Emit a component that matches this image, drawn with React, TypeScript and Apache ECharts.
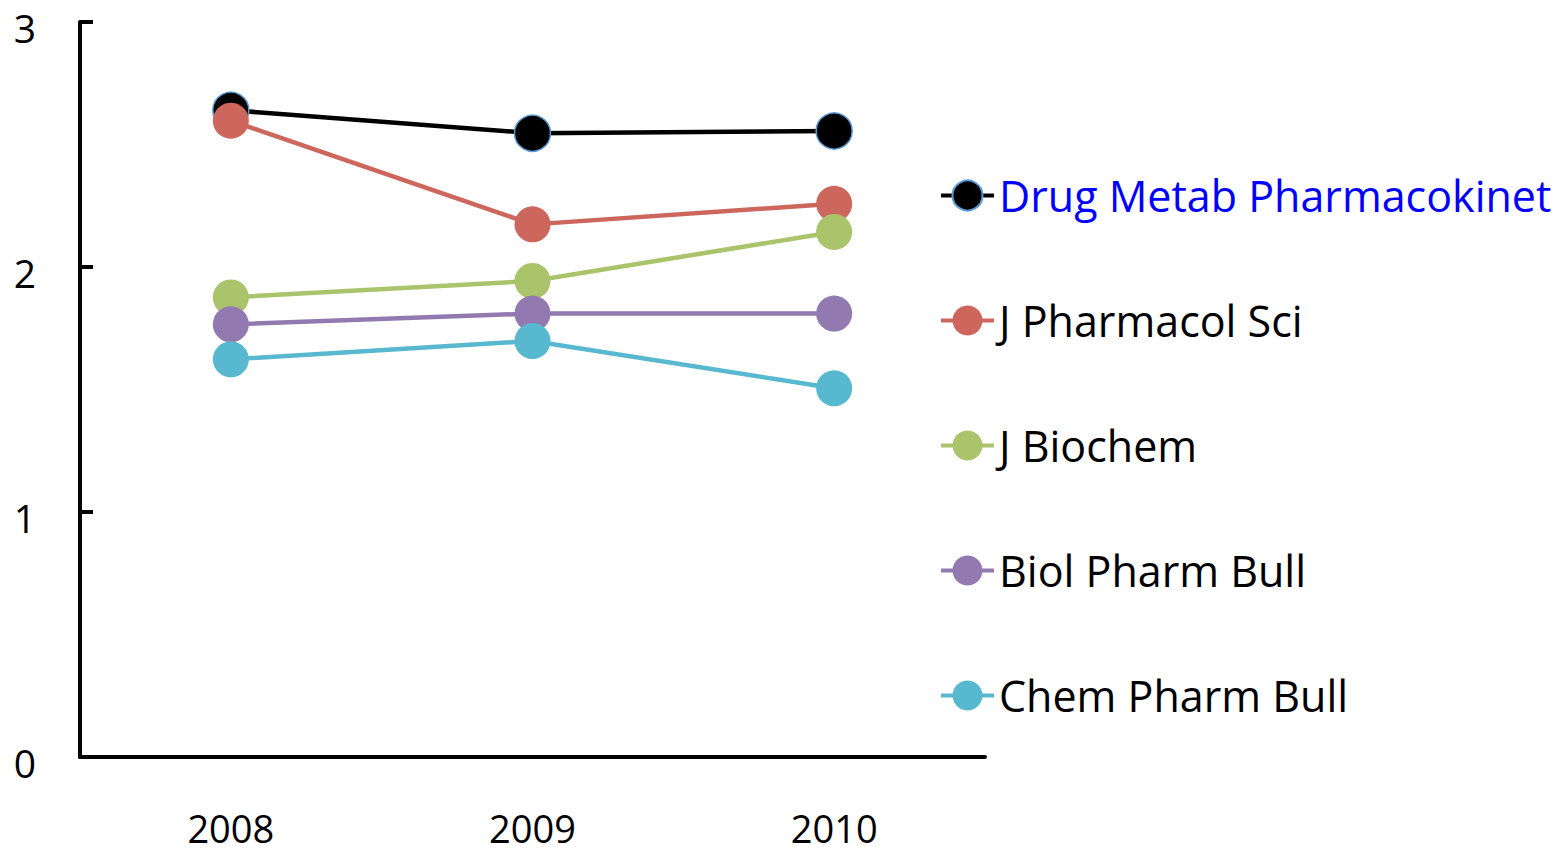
import React, { useEffect, useRef } from "react";
import * as echarts from "echarts";

const years = ["2008", "2009", "2010"];
const seriesNames = [
  "Drug Metab Pharmacokinet",
  "J Pharmacol Sci",
  "J Biochem",
  "Biol Pharm Bull",
  "Chem Pharm Bull",
];
const drugMetab = [2.64, 2.546, 2.555];
const jPharmacolSci = [2.597, 2.174, 2.258];
const jBiochem = [1.876, 1.943, 2.143];
const biolPharmBull = [1.766, 1.81, 1.81];
const chemPharmBull = [1.623, 1.698, 1.505];
const seriesValues = [drugMetab, jPharmacolSci, jBiochem, biolPharmBull, chemPharmBull];
const colors = ["#000000", "#CD665D", "#A9C46A", "#9279B0", "#58B8D0"];
const yTicks = [0, 1, 2, 3];

const FONT = "'Open Sans', 'Noto Sans', sans-serif";

export default function App() {
  const ref = useRef<HTMLDivElement>(null);
  useEffect(() => {
    if (!ref.current) return;
    const chart = echarts.init(ref.current, undefined, { renderer: "svg" });
    chart.setOption({
      animation: false,
      textStyle: { fontFamily: FONT },
      grid: { left: 80, right: 580, top: 22, bottom: 93, containLabel: false },
      xAxis: {
        type: "category",
        data: years,
        boundaryGap: true,
        axisLine: { lineStyle: { color: "#000", width: 4 } },
        axisTick: { alignWithLabel: true, inside: true, length: 10, lineStyle: { color: "#000", width: 3 } },
        axisLabel: { color: "#000", fontSize: 38, lineHeight: 20, margin: 61, fontFamily: FONT },
        splitLine: { show: false },
      },
      yAxis: {
        type: "value",
        min: yTicks[0],
        max: yTicks[yTicks.length - 1],
        interval: 1,
        axisLine: { show: true, lineStyle: { color: "#000", width: 4 } },
        axisTick: { show: true, inside: true, length: 13, lineStyle: { color: "#000", width: 4 } },
        axisLabel: {
          color: "#000",
          fontSize: 39,
          lineHeight: 10,
          verticalAlign: "top",
          margin: 44,
          fontFamily: FONT,
        },
        splitLine: { show: false },
      },
      legend: {
        orient: "vertical",
        left: 934,
        top: 169,
        itemWidth: 53,
        itemHeight: 37.5,
        itemGap: 82,
        textStyle: { fontSize: 43, color: "#000", fontFamily: FONT },
        data: seriesNames.map((n, i) => ({
          name: n,
          textStyle: i === 0 ? { color: "#0000FF" } : undefined,
          lineStyle: { width: 4, color: colors[i] },
        })),
      },
      series: seriesNames.map((name, i) => ({
        name,
        type: "line",
        data: seriesValues[i],
        symbol: "circle",
        symbolSize: 36,
        lineStyle: { color: colors[i], width: 4.5 },
        itemStyle:
          i === 0
            ? { color: colors[i], borderColor: "#5B9BD5", borderWidth: 1.5 }
            : { color: colors[i], borderWidth: 0 },
        emphasis: { disabled: true },
      })),
    });
    return () => chart.dispose();
  }, []);
  return <div ref={ref} style={{ width: 1565, height: 850, position: "absolute", left: 0, top: 0 }} />;
}
